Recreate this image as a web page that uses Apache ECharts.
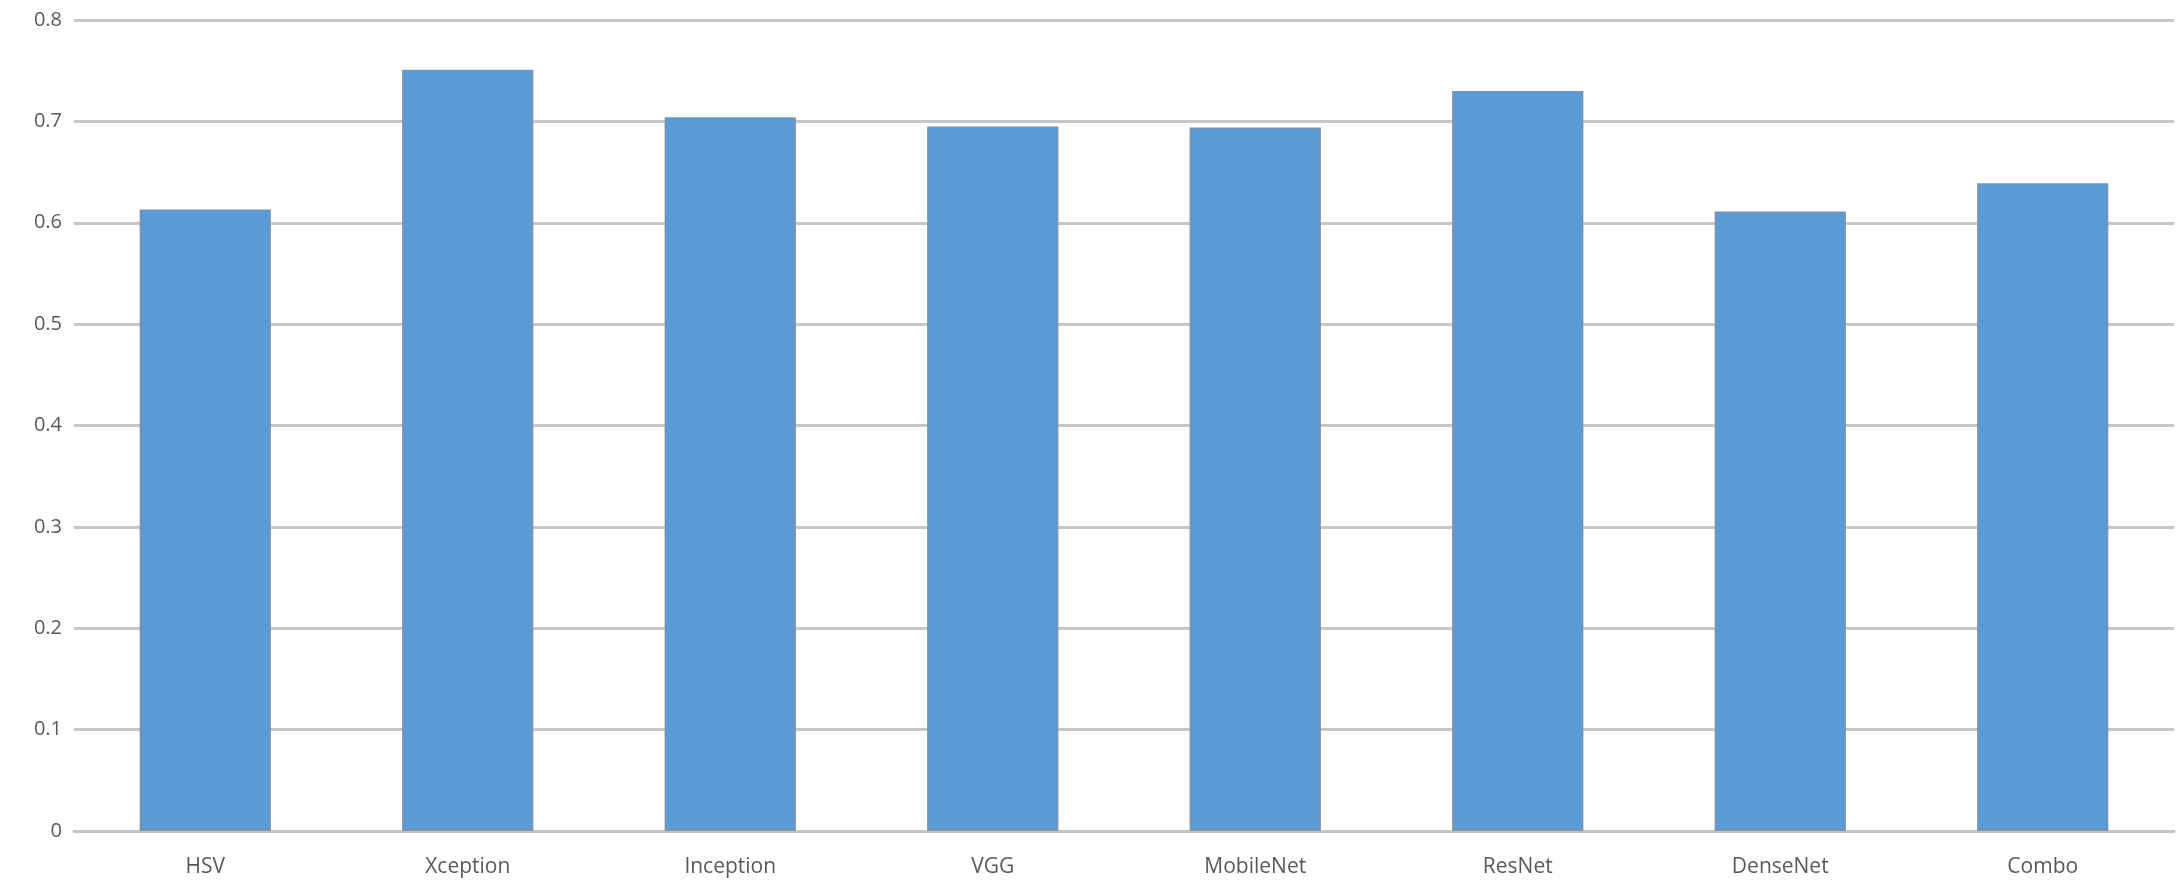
<!DOCTYPE html>
<html>
<head>
<meta charset="utf-8">
<script src="https://cdn.jsdelivr.net/npm/echarts@6/dist/echarts.min.js"></script>
<style>
  html, body { margin: 0; padding: 0; background: #ffffff; }
  #chart { width: 2176px; height: 882px; }
</style>
</head>
<body>
<div id="chart"></div>
<script>
// Model names along the x axis
const categories = ['HSV', 'Xception', 'Inception', 'VGG', 'MobileNet', 'ResNet', 'DenseNet', 'Combo'];
// Score per model
const scores = [0.613, 0.751, 0.704, 0.695, 0.694, 0.730, 0.611, 0.639];
// Value axis ticks
const yTicks = [0, 0.1, 0.2, 0.3, 0.4, 0.5, 0.6, 0.7, 0.8];

const chart = echarts.init(document.getElementById('chart'));

chart.setOption({
  animation: false,
  backgroundColor: '#ffffff',
  grid: { left: 74, right: 2, top: 20, bottom: 51, containLabel: false },
  xAxis: {
    type: 'category',
    data: categories,
    axisLine: { show: true, lineStyle: { color: '#c4c4c4', width: 3 } },
    axisTick: { show: false },
    axisLabel: {
      color: '#595959',
      fontFamily: 'Open Sans',
      fontSize: 21,
      margin: 26
    }
  },
  yAxis: {
    type: 'value',
    min: yTicks[0],
    max: yTicks[yTicks.length - 1],
    interval: yTicks[1] - yTicks[0],
    axisLine: { show: false },
    axisTick: { show: false },
    splitLine: { lineStyle: { color: '#c6c6c6', width: 3 } },
    axisLabel: {
      color: '#595959',
      fontFamily: 'Open Sans',
      fontSize: 20,
      margin: 12,
      formatter: function (v) {
        const idx = yTicks.findIndex(t => Math.abs(t - v) < 1e-9);
        return idx >= 0 ? String(yTicks[idx]) : '';
      }
    }
  },
  series: [{
    type: 'bar',
    data: scores,
    barCategoryGap: '50%',
    itemStyle: {
      color: '#5b9bd5',
      borderColor: '#7f93a8',
      borderWidth: 1.5
    }
  }]
});
</script>
</body>
</html>
